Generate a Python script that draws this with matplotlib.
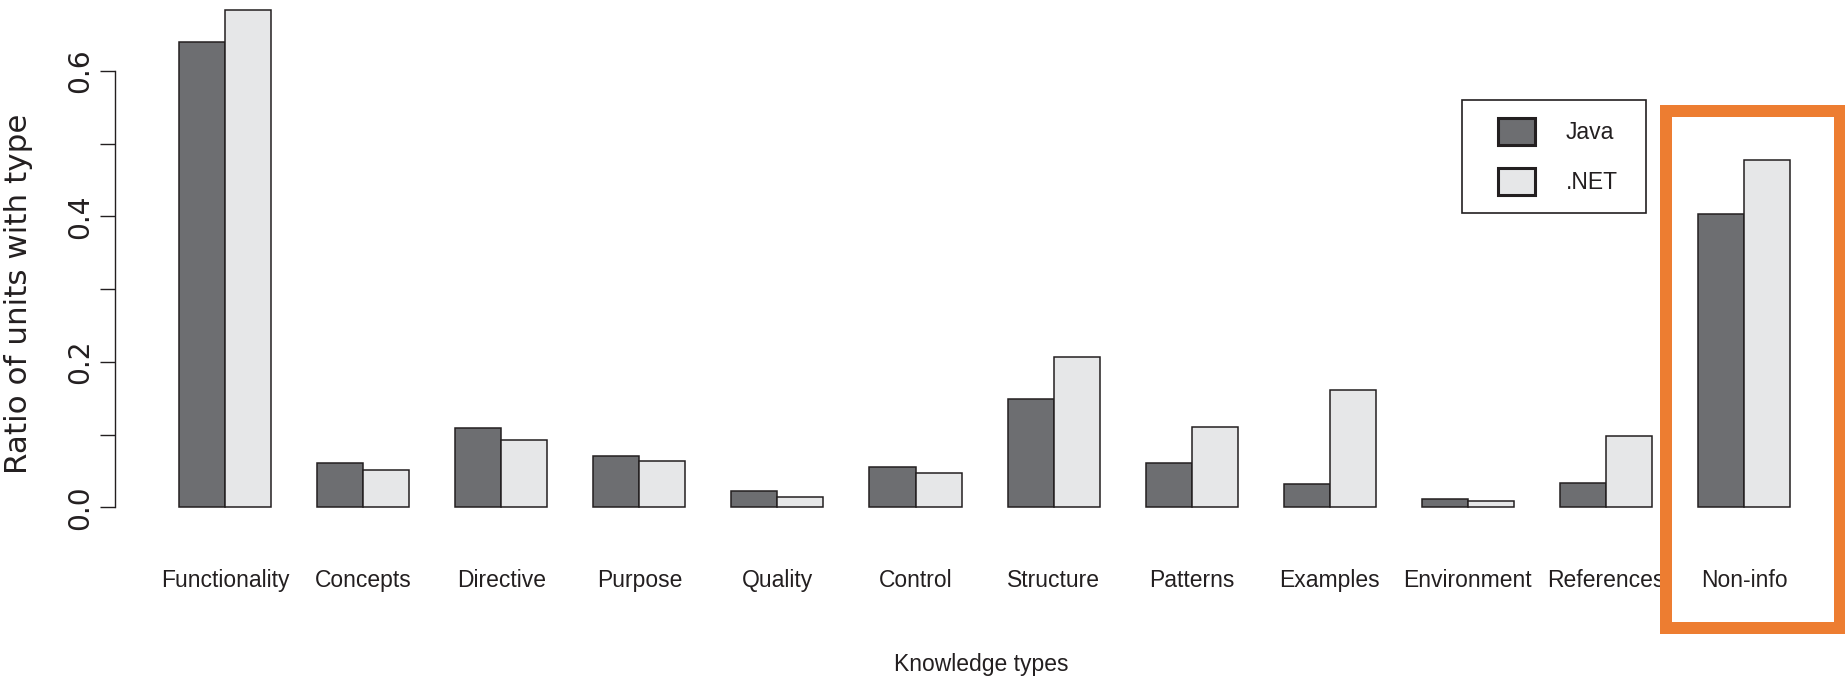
import numpy as np
import matplotlib
matplotlib.use("Agg")
import matplotlib.pyplot as plt
from matplotlib.patches import Rectangle
from matplotlib import font_manager as fm

# ---- data ----
categories = ["Functionality", "Concepts", "Directive", "Purpose", "Quality",
              "Control", "Structure", "Patterns", "Examples", "Environment",
              "References", "Non-info"]
java = [0.640, 0.061, 0.109, 0.070, 0.023, 0.056, 0.149, 0.061, 0.032, 0.011, 0.033, 0.404]
dotnet = [0.684, 0.051, 0.092, 0.063, 0.014, 0.047, 0.207, 0.111, 0.161, 0.009, 0.098, 0.478]
series_names = ["Java", ".NET"]
y_ticks = [0.0, 0.1, 0.2, 0.3, 0.4, 0.5, 0.6]
y_ticklabels = ["0.0", "", "0.2", "", "0.4", "", "0.6"]
highlight = "Non-info"

# ---- style ----
JAVA_FILL = "#6d6e71"
NET_FILL = "#e6e7e8"
EDGE = "#231f20"
ORANGE = "#ED7D31"

avail = {f.name for f in fm.fontManager.ttflist}
if "Liberation Sans Narrow" in avail:
    NARROW, NARROW_PT = "Liberation Sans Narrow", 21.0
else:
    NARROW, NARROW_PT = "Liberation Sans", 16.5
WIDE = "DejaVu Sans"

W, H, DPI = 1845, 683, 100
fig = plt.figure(figsize=(W / DPI, H / DPI), dpi=DPI)
ax = fig.add_axes([0, 0, 1, 1])
ax.patch.set_alpha(0)

# pixel geometry of the plotting scale
unit_px = 46.03          # one bar width in pixels
x_origin_px = 133.0      # pixel of x = 0
y_zero_px = 507.3        # pixel row of y = 0
y_unit_px = 727.0        # pixels per 1.0 on the y scale
ax.set_xlim(-x_origin_px / unit_px, (W - x_origin_px) / unit_px)
ax.set_ylim((y_zero_px - H) / y_unit_px, y_zero_px / y_unit_px)

n = len(categories)
group = np.arange(n) * 3.0
x_java = group + 1.5
x_net = group + 2.5
centers = group + 2.0

b1 = ax.bar(x_java, java, width=1.0, color=JAVA_FILL, edgecolor=EDGE,
            linewidth=1.1, label=series_names[0], zorder=2)
b2 = ax.bar(x_net, dotnet, width=1.0, color=NET_FILL, edgecolor=EDGE,
            linewidth=1.1, label=series_names[1], zorder=2)

# y axis (R style: line only across the tick range)
for s in ("top", "right"):
    ax.spines[s].set_visible(False)
ax.spines["left"].set_position(("data", -0.391))
ax.spines["left"].set_bounds(0, 0.6)
ax.spines["left"].set_linewidth(1.0)
ax.spines["left"].set_color(EDGE)
ax.set_yticks(y_ticks)
ax.set_yticklabels(y_ticklabels, rotation=90, va="center",
                   fontfamily=WIDE, fontsize=20.2, color="#231f20")
ax.tick_params(axis="y", direction="out", length=10.8, width=1.0,
               color=EDGE, pad=4.5)

# x axis: category names, no line, no ticks
ax.spines["bottom"].set_color("none")
ax.spines["bottom"].set_position(("data", (y_zero_px - 569.0) / y_unit_px))
ax.set_xticks(centers)
ax.set_xticklabels(categories, fontfamily=NARROW, fontsize=NARROW_PT, color="#231f20")
ax.tick_params(axis="x", length=0, pad=0)

ax.set_xlabel("Knowledge types", fontfamily=NARROW, fontsize=NARROW_PT, color="#231f20")
xlo, xhi = ax.get_xlim()
ax.xaxis.set_label_coords((18.42 - xlo) / (xhi - xlo), 1 - 653.0 / H)

ax.set_ylabel("Ratio of units with type", fontfamily=WIDE, fontsize=22.3, color="#231f20")
ax.yaxis.set_label_coords(33.5 / W, 1 - 294.0 / H)

# legend
fs_px = NARROW_PT * DPI / 72
leg = ax.legend(handles=[b1, b2], labels=series_names, loc="upper left",
                bbox_to_anchor=(1497.7 / W, 1 - 117.5 / H),
                bbox_transform=fig.transFigure, frameon=False,
                borderpad=0, borderaxespad=0,
                handlelength=37 / fs_px, handleheight=34 / fs_px,
                handletextpad=31 / fs_px, labelspacing=0.98,
                prop={"family": NARROW, "size": NARROW_PT})
for h in leg.legend_handles:
    h.set_linewidth(2.2)
for t in leg.get_texts():
    t.set_color("#231f20")
fig.add_artist(Rectangle((1462 / W, 1 - 213.3 / H), 183.7 / W, 113.6 / H,
                         transform=fig.transFigure, fill=False,
                         edgecolor=EDGE, linewidth=1.2))

# highlight box around the last category
hi = categories.index(highlight)
cx = centers[hi]
ax.add_patch(Rectangle((cx - 1.70, -0.166), 3.78, 0.711, fill=False,
                       edgecolor=ORANGE, linewidth=8.64, joinstyle="miter",
                       clip_on=False, zorder=5))

fig.savefig("out.png", dpi=DPI, facecolor="white")
